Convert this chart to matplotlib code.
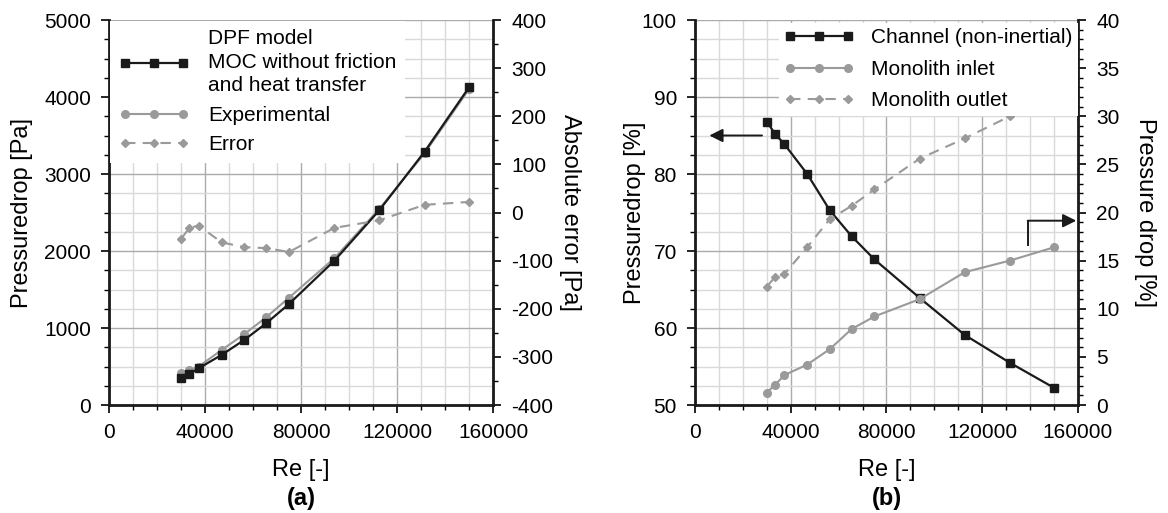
import matplotlib
matplotlib.use("Agg")
import matplotlib.pyplot as plt
from matplotlib.ticker import MultipleLocator

plt.rcParams["font.family"] = ["Liberation Sans", "DejaVu Sans"]
plt.rcParams["axes.unicode_minus"] = False

# ---- data ----
re = [30000, 33500, 37300, 46900, 56300, 65500, 75000, 93900, 112700, 131500, 150200]

dpf_model = [355, 403, 476, 650, 844, 1061, 1312, 1874, 2532, 3290, 4134]
experimental = [411, 455, 498, 714, 918, 1139, 1394, 1905, 2550, 3270, 4110]
abs_error = [-55, -32, -27, -62, -72, -74, -82, -32, -16, 16, 22]

channel = [86.8, 85.2, 83.9, 80.0, 75.3, 71.9, 68.9, 63.9, 59.1, 55.5, 52.2]
mono_inlet = [1.3, 2.1, 3.1, 4.2, 5.8, 7.9, 9.2, 11.0, 13.8, 15.0, 16.4]
mono_outlet = [12.3, 13.3, 13.6, 16.4, 19.3, 20.7, 22.4, 25.6, 27.7, 30.0, 31.9]

BLACK = "#1a1a1a"
GRAY = "#9a9a9a"
MINOR_GRID = "#d9d9d9"
MAJOR_GRID = "#ababab"
TICK_FS = 15
LABEL_FS = 17
LEGEND_FS = 15

fig = plt.figure(figsize=(11.68, 5.13), dpi=100)
ax_a = fig.add_axes([0.0933, 0.2105, 0.3288, 0.7505])
ax_b = fig.add_axes([0.5950, 0.2105, 0.3279, 0.7505])


def style_axes(ax, tw, ymin, ymax, ymaj, ymin_step, y2min, y2max, y2maj, y2min_step):
    ax.set_xlim(0, 160000)
    ax.set_ylim(ymin, ymax)
    ax.xaxis.set_major_locator(MultipleLocator(40000))
    ax.xaxis.set_minor_locator(MultipleLocator(10000))
    ax.yaxis.set_major_locator(MultipleLocator(ymaj))
    ax.yaxis.set_minor_locator(MultipleLocator(ymin_step))
    ax.grid(which="minor", color=MINOR_GRID, linewidth=1.0)
    ax.grid(which="major", color=MAJOR_GRID, linewidth=1.0)
    ax.set_axisbelow(True)
    for s in ("top", "right"):
        ax.spines[s].set_visible(False)
    for s in ("left", "bottom"):
        ax.spines[s].set_linewidth(2.0)
        ax.spines[s].set_color(BLACK)
    ax.tick_params(which="major", direction="out", length=6, width=1.2,
                   labelsize=TICK_FS, pad=7)
    ax.tick_params(which="minor", direction="out", length=3.5, width=1.0)
    ax.tick_params(axis="x", which="both", top=False)

    tw.set_ylim(y2min, y2max)
    tw.yaxis.set_major_locator(MultipleLocator(y2maj))
    tw.yaxis.set_minor_locator(MultipleLocator(y2min_step))
    for s in ("top", "left", "bottom"):
        tw.spines[s].set_visible(False)
    tw.spines["right"].set_linewidth(2.0)
    tw.spines["right"].set_color(BLACK)
    tw.tick_params(which="major", direction="out", length=6, width=1.2,
                   labelsize=TICK_FS, pad=7)
    tw.tick_params(which="minor", direction="out", length=3.5, width=1.0)


# ---- (a) ----
tw_a = ax_a.twinx()
style_axes(ax_a, tw_a, 0, 5000, 1000, 250, -400, 400, 100, 50)

l1, = ax_a.plot(re, experimental, color=GRAY, lw=1.5, marker="o", ms=5.5,
                label="Experimental", zorder=3)
l0, = ax_a.plot(re, dpf_model, color=BLACK, lw=1.6, marker="s", ms=5.5,
                label="DPF model\nMOC without friction\nand heat transfer", zorder=4)
l2, = tw_a.plot(re, abs_error, color=GRAY, lw=1.5, ls=(0, (5, 3.5)), marker="D",
                ms=4, label="Error")

ax_a.set_ylabel("Pressuredrop [Pa]", fontsize=LABEL_FS)
ax_a.yaxis.set_label_coords(-0.199, 0.5)
tw_a.set_ylabel("Absolute error [Pa]", fontsize=LABEL_FS, rotation=270, va="center")
tw_a.yaxis.set_label_coords(1.20, 0.5)
ax_a.set_xlabel("Re [-]", fontsize=LABEL_FS)
ax_a.xaxis.set_label_coords(0.5, -0.14)
ax_a.text(0.5, -0.242, "(a)", transform=ax_a.transAxes, ha="center", va="center",
          fontsize=LABEL_FS, fontweight="bold")

leg_a = tw_a.legend(handles=[l0, l1, l2], loc="upper left", numpoints=3,
                    handlelength=3.4, handletextpad=0.9, fontsize=LEGEND_FS,
                    labelspacing=0.5, borderaxespad=0.05, borderpad=0.4,
                    frameon=True, fancybox=False, framealpha=1.0)
leg_a.get_frame().set_edgecolor("none")
for t in leg_a.get_texts():
    t.set_linespacing(1.3)

# ---- (b) ----
tw_b = ax_b.twinx()
style_axes(ax_b, tw_b, 50, 100, 10, 2.5, 0, 40, 5, 1)

m0, = ax_b.plot(re, channel, color=BLACK, lw=1.6, marker="s", ms=5.5,
                label="Channel (non-inertial)")
m1, = tw_b.plot(re, mono_inlet, color=GRAY, lw=1.5, marker="o", ms=5.5,
                label="Monolith inlet")
m2, = tw_b.plot(re, mono_outlet, color=GRAY, lw=1.5, ls=(0, (5, 3.5)), marker="D",
                ms=4, label="Monolith outlet")

ax_b.set_ylabel("Pressuredrop [%]", fontsize=LABEL_FS)
ax_b.yaxis.set_label_coords(-0.128, 0.5)
tw_b.set_ylabel("Pressure drop [%]", fontsize=LABEL_FS, rotation=270, va="center")
tw_b.yaxis.set_label_coords(1.175, 0.5)
ax_b.set_xlabel("Re [-]", fontsize=LABEL_FS)
ax_b.xaxis.set_label_coords(0.5, -0.14)
ax_b.text(0.5, -0.242, "(b)", transform=ax_b.transAxes, ha="center", va="center",
          fontsize=LABEL_FS, fontweight="bold")

# axis-pointer arrows
arrow_kw = dict(arrowstyle="-|>", color=BLACK, lw=1.4, mutation_scale=20,
                shrinkA=0, shrinkB=0)
ax_b.annotate("", xy=(6000, 85), xytext=(28000, 85), arrowprops=arrow_kw)
for y_lo, y_hi in [(31.9, 34.5), (16.6, 19.15)]:
    tw_b.plot([139000, 139000], [y_lo, y_hi], color=BLACK, lw=1.4)
    tw_b.annotate("", xy=(159300, y_hi), xytext=(139000, y_hi), arrowprops=arrow_kw)

leg_b = tw_b.legend(handles=[m0, m1, m2], loc="upper right", numpoints=3,
                    handlelength=3.4, handletextpad=0.8, fontsize=LEGEND_FS,
                    labelspacing=0.6, borderaxespad=0.0, borderpad=0.25,
                    bbox_to_anchor=(1.0, 0.992),
                    frameon=True, fancybox=False, framealpha=1.0)
leg_b.get_frame().set_edgecolor("none")

fig.savefig("out.png", dpi=100)
